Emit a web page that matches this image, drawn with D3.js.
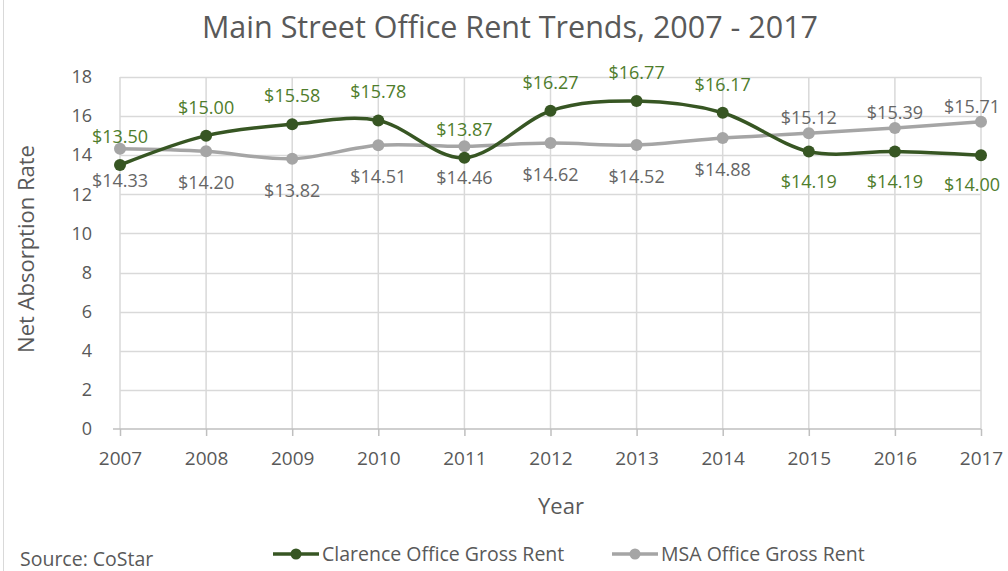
<!DOCTYPE html>
<html><head><meta charset="utf-8">
<script src="https://cdn.jsdelivr.net/npm/d3@7"></script>
<style>
body{margin:0;background:#fff;}
svg{display:block;font-family:"Open Sans","Noto Sans",sans-serif;}
svg text{font-family:"Open Sans","Noto Sans",sans-serif;}
</style></head>
<body><svg id="chart" width="1008" height="571"></svg>
<script>
const years = [2007,2008,2009,2010,2011,2012,2013,2014,2015,2016,2017];
const clarence = [13.50,15.00,15.58,15.78,13.87,16.27,16.77,16.17,14.19,14.19,14.00];
const msa = [14.33,14.20,13.82,14.51,14.46,14.62,14.52,14.88,15.12,15.39,15.71];
const yTicks = [0,2,4,6,8,10,12,14,16,18];
const seriesNames = ["Clarence Office Gross Rent","MSA Office Gross Rent"];
const titleText = "Main Street Office Rent Trends, 2007 - 2017";

const svg = d3.select("#chart");
const W = 1008, H = 571;
const m = {left:120, right:1008-981, top:77, bottom:571-429};
const x = d3.scalePoint().domain(years).range([m.left, W-m.right]);
const y = d3.scaleLinear().domain([0,18]).range([H-m.bottom, m.top]);

const greenLine = "#375623", greenText = "#4f7d2c", grayLine = "#a5a5a5", grayText = "#666666", axisText = "#595959";
const FONT = '"Open Sans","Noto Sans",sans-serif';

// border
svg.append("line").attr("x1",3.5).attr("x2",3.5).attr("y1",0).attr("y2",H).attr("stroke","#d9d9d9");

// grid
const g = svg.append("g");
g.selectAll("line.h").data(yTicks.filter(d=>d>0)).join("line")
  .attr("x1",m.left).attr("x2",W-m.right).attr("y1",d=>Math.round(y(d))+0.5).attr("y2",d=>Math.round(y(d))+0.5)
  .attr("stroke","#d9d9d9").attr("stroke-width",1.5);
g.selectAll("line.v").data(years).join("line")
  .attr("x1",d=>x(d)).attr("x2",d=>x(d)).attr("y1",m.top).attr("y2",y(0))
  .attr("stroke","#d9d9d9").attr("stroke-width",1.5);

// x axis
const xAxis = d3.axisBottom(x).tickSize(7).tickPadding(16);
const xa = svg.append("g").attr("transform",`translate(0,${y(0)})`).call(xAxis).attr("font-family",FONT);
xa.select(".domain").attr("stroke","#bfbfbf").attr("stroke-width",1.5).attr("d",`M${m.left-7},0H${W-m.right}`);
xa.selectAll(".tick line").attr("stroke","#bfbfbf").attr("stroke-width",1.5);
xa.selectAll("text").attr("fill",axisText).style("font-size","19px");

// y axis
const yAxis = d3.axisLeft(y).tickValues(yTicks).tickSize(0).tickPadding(28);
const ya = svg.append("g").attr("transform",`translate(${m.left},0)`).call(yAxis).attr("font-family",FONT);
ya.select(".domain").remove();
ya.selectAll("text").attr("fill",axisText).style("font-size","18px");

// title
svg.append("text").attr("x",510).attr("y",38).attr("text-anchor","middle")
  .attr("fill",axisText).style("font-size","30.5px").text(titleText);
// axis titles
svg.append("text").attr("transform","translate(34,249) rotate(-90)").attr("text-anchor","middle")
  .attr("fill",axisText).style("font-size","22px").text("Net Absorption Rate");
svg.append("text").attr("x",561).attr("y",514).attr("text-anchor","middle")
  .attr("fill",axisText).style("font-size","22px").text("Year");
svg.append("text").attr("x",20).attr("y",566)
  .attr("fill",axisText).style("font-size","19.5px").text("Source: CoStar");

const line = d3.line().x((d,i)=>x(years[i])).y(d=>y(d)).curve(d3.curveCardinal.tension(0));

function drawSeries(vals, color, textColor, aboveFn, upOff, downOff){
  svg.append("path").datum(vals).attr("d",line).attr("fill","none").attr("stroke",color).attr("stroke-width",3.5);
  svg.append("g").selectAll("circle").data(vals).join("circle")
    .attr("cx",(d,i)=>x(years[i])).attr("cy",d=>y(d)).attr("r",6).attr("fill",color);
  svg.append("g").selectAll("text").data(vals).join("text")
    .attr("x",(d,i)=>Math.min(x(years[i]), W-36))
    .attr("y",(d,i)=>y(d) + (aboveFn(i) ? upOff : downOff))
    .attr("text-anchor","middle").attr("fill",textColor).style("font-size","18px")
    .text(d=>"$"+d.toFixed(2));
}
drawSeries(msa, grayLine, grayText, i=>i>=8, -9, 38);
drawSeries(clarence, greenLine, greenText, i=>i<8, -22, 36);

// legend
const leg = [{name:seriesNames[0],color:greenLine,x:273},{name:seriesNames[1],color:grayLine,x:612}];
const lg = svg.append("g").selectAll("g").data(leg).join("g").attr("transform",d=>`translate(${d.x},554)`);
lg.append("line").attr("x1",0).attr("x2",46).attr("stroke",d=>d.color).attr("stroke-width",3.5);
lg.append("circle").attr("cx",23).attr("r",5.5).attr("fill",d=>d.color);
lg.append("text").attr("x",49).attr("y",7).attr("fill",axisText).style("font-size","19.5px").text(d=>d.name);
</script></body></html>
